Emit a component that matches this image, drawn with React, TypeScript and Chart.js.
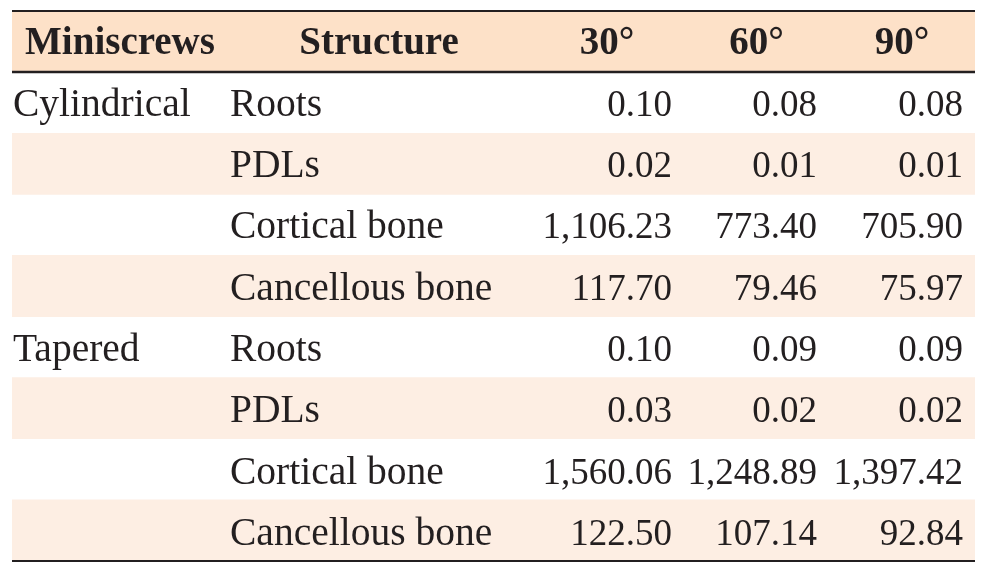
import React, { useEffect, useRef } from "react";
import { Chart, registerables } from "chart.js";

Chart.register(...registerables);

// ---- data ----
const headers = ["Miniscrews", "Structure", "30°", "60°", "90°"];
const miniscrews = ["Cylindrical", "Tapered"];
const structures = ["Roots", "PDLs", "Cortical bone", "Cancellous bone"];
const cylindrical30 = [0.1, 0.02, 1106.23, 117.7];
const cylindrical60 = [0.08, 0.01, 773.4, 79.46];
const cylindrical90 = [0.08, 0.01, 705.9, 75.97];
const tapered30 = [0.1, 0.03, 1560.06, 122.5];
const tapered60 = [0.09, 0.02, 1248.89, 107.14];
const tapered90 = [0.09, 0.02, 1397.42, 92.84];

const seriesByScrew = [
  [cylindrical30, cylindrical60, cylindrical90],
  [tapered30, tapered60, tapered90],
];

// ---- layout (table units along x) ----
const TABLE_W = 963;
const colEdges = [0, 216, 518, 672, 817, 963];
const FONT = '"Liberation Serif", "Times New Roman", serif';
const TEXT = "#231f20";
const HEADER_BG = "#fde1c8";
const STRIPE_BG = "#fdeee3";

type Row = { screw: string; structure: string; values: number[] };
const bodyRows: Row[] = [];
miniscrews.forEach((m, mi) => {
  structures.forEach((s, si) => {
    bodyRows.push({
      screw: si === 0 ? m : "",
      structure: s,
      values: seriesByScrew[mi].map((arr) => arr[si]),
    });
  });
});

const rowKeys = ["header", ...bodyRows.map((_, i) => "r" + i)];
const fmt = (v: number) =>
  v.toLocaleString("en-US", { minimumFractionDigits: 2, maximumFractionDigits: 2 });

const tablePlugin = {
  id: "tableText",
  afterDatasetsDraw(chart: any) {
    const { ctx, scales } = chart;
    const xs = scales.x;
    const ys = scales.y;
    const px = (v: number) => xs.getPixelForValue(v);
    const band = ys.getPixelForValue(1) - ys.getPixelForValue(0);
    ctx.save();
    // rules
    ctx.strokeStyle = TEXT;
    const rule = (y: number, w: number) => {
      ctx.lineWidth = w;
      ctx.beginPath();
      ctx.moveTo(px(0), y);
      ctx.lineTo(px(TABLE_W), y);
      ctx.stroke();
    };
    const top = ys.getPixelForValue(0) - band / 2;
    rule(top, 2);
    rule(ys.getPixelForValue(0) + band / 2, 2.5);
    rule(ys.getPixelForValue(rowKeys.length - 1) + band / 2, 2);

    ctx.fillStyle = TEXT;
    ctx.textBaseline = "alphabetic";
    const base = 13;
    // header
    ctx.font = `bold 39px ${FONT}`;
    ctx.textAlign = "center";
    headers.forEach((h, i) => {
      const cx = (px(colEdges[i]) + px(colEdges[i + 1])) / 2;
      ctx.fillText(h, cx, ys.getPixelForValue(0) + base - 1);
    });
    // body
    bodyRows.forEach((r, ri) => {
      const y = ys.getPixelForValue(ri + 1) + base + ri * 0.2;
      ctx.font = `39.5px ${FONT}`;
      ctx.textAlign = "left";
      if (r.screw) ctx.fillText(r.screw, px(colEdges[0]) + 1, y);
      ctx.fillText(r.structure, px(colEdges[1]) + 2, y);
      ctx.font = `37px ${FONT}`;
      ctx.textAlign = "right";
      r.values.forEach((v, vi) => {
        ctx.fillText(fmt(v), px(colEdges[vi + 3]) - 12, y);
      });
    });
    ctx.restore();
  },
};

export default function App() {
  const ref = useRef<HTMLCanvasElement>(null);
  useEffect(() => {
    if (!ref.current) return;
    const bgData = rowKeys.map((_, i) =>
      i === 0 || i % 2 === 0 ? [0, TABLE_W] : null
    );
    const bgColors = rowKeys.map((_, i) => (i === 0 ? HEADER_BG : STRIPE_BG));
    const chart = new Chart(ref.current, {
      type: "bar",
      data: {
        labels: rowKeys,
        datasets: [
          {
            data: bgData as any,
            backgroundColor: bgColors,
            borderWidth: 0,
            barPercentage: 1,
            categoryPercentage: 1,
          },
        ],
      },
      options: {
        indexAxis: "y",
        responsive: false,
        animation: false,
        layout: { padding: { left: 12, right: 7, top: 11, bottom: 10 } },
        plugins: { legend: { display: false }, tooltip: { enabled: false } },
        scales: {
          x: { type: "linear", min: 0, max: TABLE_W, display: false },
          y: { type: "category", offset: true, display: false },
        },
      },
      plugins: [tablePlugin],
    });
    return () => chart.destroy();
  }, []);
  return (
    <div style={{ position: "fixed", left: 0, top: 0, width: 982, height: 571, background: "#fff" }}>
      <canvas ref={ref} width={982} height={571} style={{ display: "block" }} />
    </div>
  );
}
